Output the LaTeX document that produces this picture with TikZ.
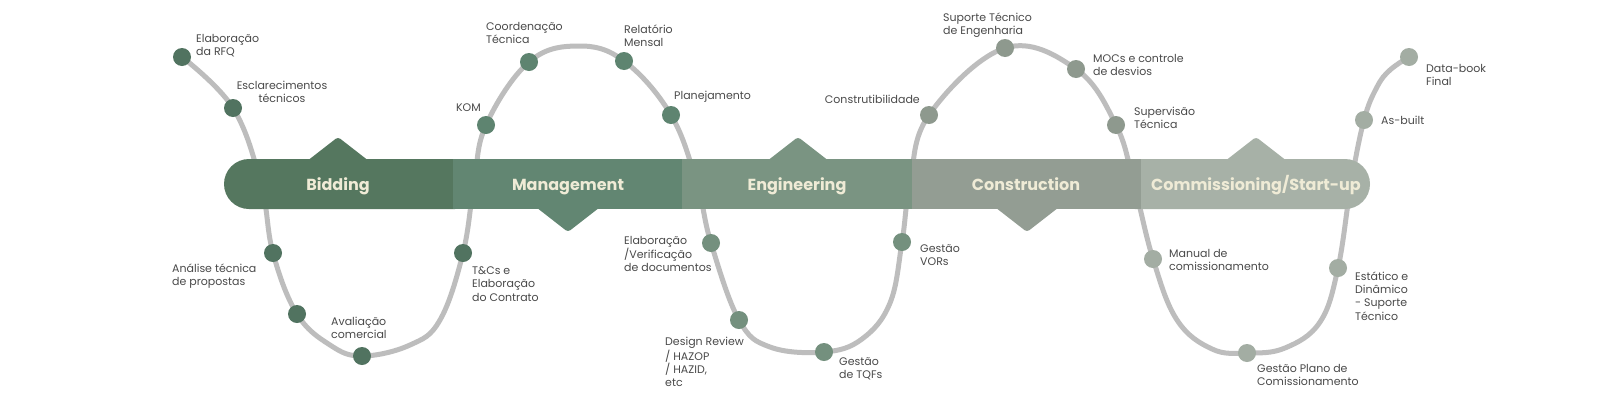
\documentclass[tikz,border=0pt]{standalone}
\usepackage{fontspec}
\setmainfont{Poppins}
\usepackage{tikz}
\usetikzlibrary{calc}
\definecolor{wave}{HTML}{BDBDBD}
\definecolor{ink}{HTML}{4A4A4A}
\definecolor{cream}{HTML}{EFEBD6}
\definecolor{bid}{HTML}{55775F}
\definecolor{mgmt}{HTML}{628672}
\definecolor{eng}{HTML}{7A9482}
\definecolor{cons}{HTML}{939D93}
\definecolor{comm}{HTML}{A7B1A7}
\definecolor{biddot}{HTML}{517360}
\definecolor{mgmtdot}{HTML}{5E8470}
\definecolor{engdot}{HTML}{74907E}
\definecolor{consdot}{HTML}{8E998E}
\definecolor{commdot}{HTML}{A3ADA3}
\tikzset{
  track/.style={draw=wave, line width=5pt, line cap=round, line join=round},
  dot/.style={circle, inner sep=0pt, minimum size=18pt},
  lab/.style={text=ink, font=\fontsize{11}{13.3}\selectfont, inner sep=0pt, align=left},
  phase/.style={text=cream, font=\fontsize{16}{18}\selectfont\bfseries, inner sep=0pt, anchor=base},
  tip/.style={rounded corners=3pt},
}

\begin{document}
\begin{tikzpicture}[x=1pt,y=-1pt]
  \useasboundingbox[fill=white] (0,0) rectangle (1600,413);

  % stations on the track
  \coordinate (rfq) at (182,57);
  \coordinate (escl) at (233,108);
  \coordinate (anal) at (273,253);
  \coordinate (low) at (297,314);
  \coordinate (aval) at (362,356);
  \coordinate (tcs) at (463,253);
  \coordinate (kom) at (486,125);
  \coordinate (coord) at (529,62);
  \coordinate (rel) at (624,61);
  \coordinate (plan) at (671,115);
  \coordinate (verif) at (711,243);
  \coordinate (hazop) at (739,320);
  \coordinate (tqf) at (824,352);
  \coordinate (vor) at (902,242);
  \coordinate (constr) at (929,115);
  \coordinate (sup) at (1005,48);
  \coordinate (moc) at (1076,69);
  \coordinate (superv) at (1116,125);
  \coordinate (manual) at (1153,259);
  \coordinate (plano) at (1247,353);
  \coordinate (estat) at (1338,268);
  \coordinate (asb) at (1364,120);
  \coordinate (dbook) at (1409,57);

  \draw[track] plot[smooth,tension=0.65] coordinates {
    (rfq) (escl) (261,184) (anal) (low) (330,345) (aval) (410,345) (440,320) (tcs)
    (474,184) (kom) (coord) (578,46) (rel) (plan) (697,184) (verif) (hazop)
    (770,347) (tqf) (862,339) (890,303) (vor)
    (910,184) (constr) (sup) (moc) (superv) (1134,184) (manual) (1177,320)
    (1212,349) (plano) (1285,348) (1320,322) (estat)
    (1351,184) (asb) (1377,87) (1390,70) (dbook)};

  % phase bar
  \fill[bid,rounded corners=25pt] (224,159) rectangle (480,209);
  \fill[comm,rounded corners=25pt] (1110,159) rectangle (1370,209);
  \fill[mgmt] (453.2,159) rectangle (682.4,209);
  \fill[eng] (682.4,159) rectangle (911.6,209);
  \fill[cons] (911.6,159) rectangle (1140.8,209);

  \fill[bid,tip] ($(338,137)+(-36,28)$) -- (338,137) -- ($(338,137)+(36,28)$) -- cycle;
  \fill[mgmt,tip] ($(568,232)+(-36,-28)$) -- (568,232) -- ($(568,232)+(36,-28)$) -- cycle;
  \fill[eng,tip] ($(798,137)+(-36,28)$) -- (798,137) -- ($(798,137)+(36,28)$) -- cycle;
  \fill[cons,tip] ($(1027,232)+(-36,-28)$) -- (1027,232) -- ($(1027,232)+(36,-28)$) -- cycle;
  \fill[comm,tip] ($(1256,137)+(-36,28)$) -- (1256,137) -- ($(1256,137)+(36,28)$) -- cycle;

  \node[phase] (bidding) at (338,190) {Bidding};
  \node[phase] (management) at (568,190) {Management};
  \node[phase] (engineering) at (797,190) {Engineering};
  \node[phase] (construction) at (1026,190) {Construction};
  \node[phase] (commissioning) at (1256,190) {Commissioning/Start-up};

  % dots
  \node[dot,fill=biddot] (d-rfq) at (rfq) {};
  \node[dot,fill=biddot] (d-escl) at (escl) {};
  \node[dot,fill=biddot] (d-anal) at (anal) {};
  \node[dot,fill=biddot] (d-low) at (low) {};
  \node[dot,fill=biddot] (d-aval) at (aval) {};
  \node[dot,fill=biddot] (d-tcs) at (tcs) {};
  \node[dot,fill=mgmtdot] (d-kom) at (kom) {};
  \node[dot,fill=mgmtdot] (d-coord) at (coord) {};
  \node[dot,fill=mgmtdot] (d-rel) at (rel) {};
  \node[dot,fill=mgmtdot] (d-plan) at (plan) {};
  \node[dot,fill=engdot] (d-verif) at (verif) {};
  \node[dot,fill=engdot] (d-hazop) at (hazop) {};
  \node[dot,fill=engdot] (d-tqf) at (tqf) {};
  \node[dot,fill=engdot] (d-vor) at (vor) {};
  \node[dot,fill=consdot] (d-constr) at (constr) {};
  \node[dot,fill=consdot] (d-sup) at (sup) {};
  \node[dot,fill=consdot] (d-moc) at (moc) {};
  \node[dot,fill=consdot] (d-superv) at (superv) {};
  \node[dot,fill=commdot] (d-manual) at (manual) {};
  \node[dot,fill=commdot] (d-plano) at (plano) {};
  \node[dot,fill=commdot] (d-estat) at (estat) {};
  \node[dot,fill=commdot] (d-asb) at (asb) {};
  \node[dot,fill=commdot] (d-dbook) at (dbook) {};

  % labels
  \node[lab,anchor=west] (l-rfq) at (196,46) {Elaboração\\da RFQ};
  \node[lab,align=center] (l-escl) at (282,92) {Esclarecimentos\\técnicos};
  \node[lab,anchor=west] (l-anal) at (172,276) {Análise técnica\\de propostas};
  \node[lab,anchor=west] (l-aval) at (331,328) {Avaliação\\comercial};
  \node[lab,anchor=west] (l-tcs) at (472,284) {T\&Cs e\\Elaboração\\do Contrato};
  \node[lab,anchor=east] (l-kom) at (481,108) {KOM};
  \node[lab,anchor=west] (l-coord) at (486,33) {Coordenação\\Técnica};
  \node[lab,anchor=west] (l-rel) at (624,36) {Relatório\\Mensal};
  \node[lab,anchor=west] (l-plan) at (674,97) {Planejamento};
  \node[lab,anchor=west] (l-verif) at (624,254) {Elaboração\\/Verificação\\de documentos};
  \node[lab,anchor=west] (l-hazop) at (665,362) {Design Review\\/ HAZOP\\/ HAZID,\\etc};
  \node[lab,anchor=west] (l-tqf) at (839,369) {Gestão\\de TQFs};
  \node[lab,anchor=west] (l-vor) at (920,255) {Gestão\\VORs};
  \node[lab,anchor=east] (l-constr) at (920,99) {Construtibilidade};
  \node[lab,anchor=west] (l-sup) at (943,25) {Suporte Técnico\\de Engenharia};
  \node[lab,anchor=west] (l-moc) at (1093,65) {MOCs e controle\\de desvios};
  \node[lab,anchor=west] (l-superv) at (1134,118) {Supervisão\\Técnica};
  \node[lab,anchor=west] (l-manual) at (1169,260) {Manual de\\comissionamento};
  \node[lab,anchor=west] (l-plano) at (1257,375) {Gestão Plano de\\Comissionamento};
  \node[lab,anchor=west] (l-estat) at (1355,296) {Estático e\\Dinâmico\\- Suporte\\Técnico};
  \node[lab,anchor=west] (l-asb) at (1381,120) {As-built};
  \node[lab,anchor=west] (l-dbook) at (1426,75) {Data-book\\Final};
\end{tikzpicture}
\end{document}
